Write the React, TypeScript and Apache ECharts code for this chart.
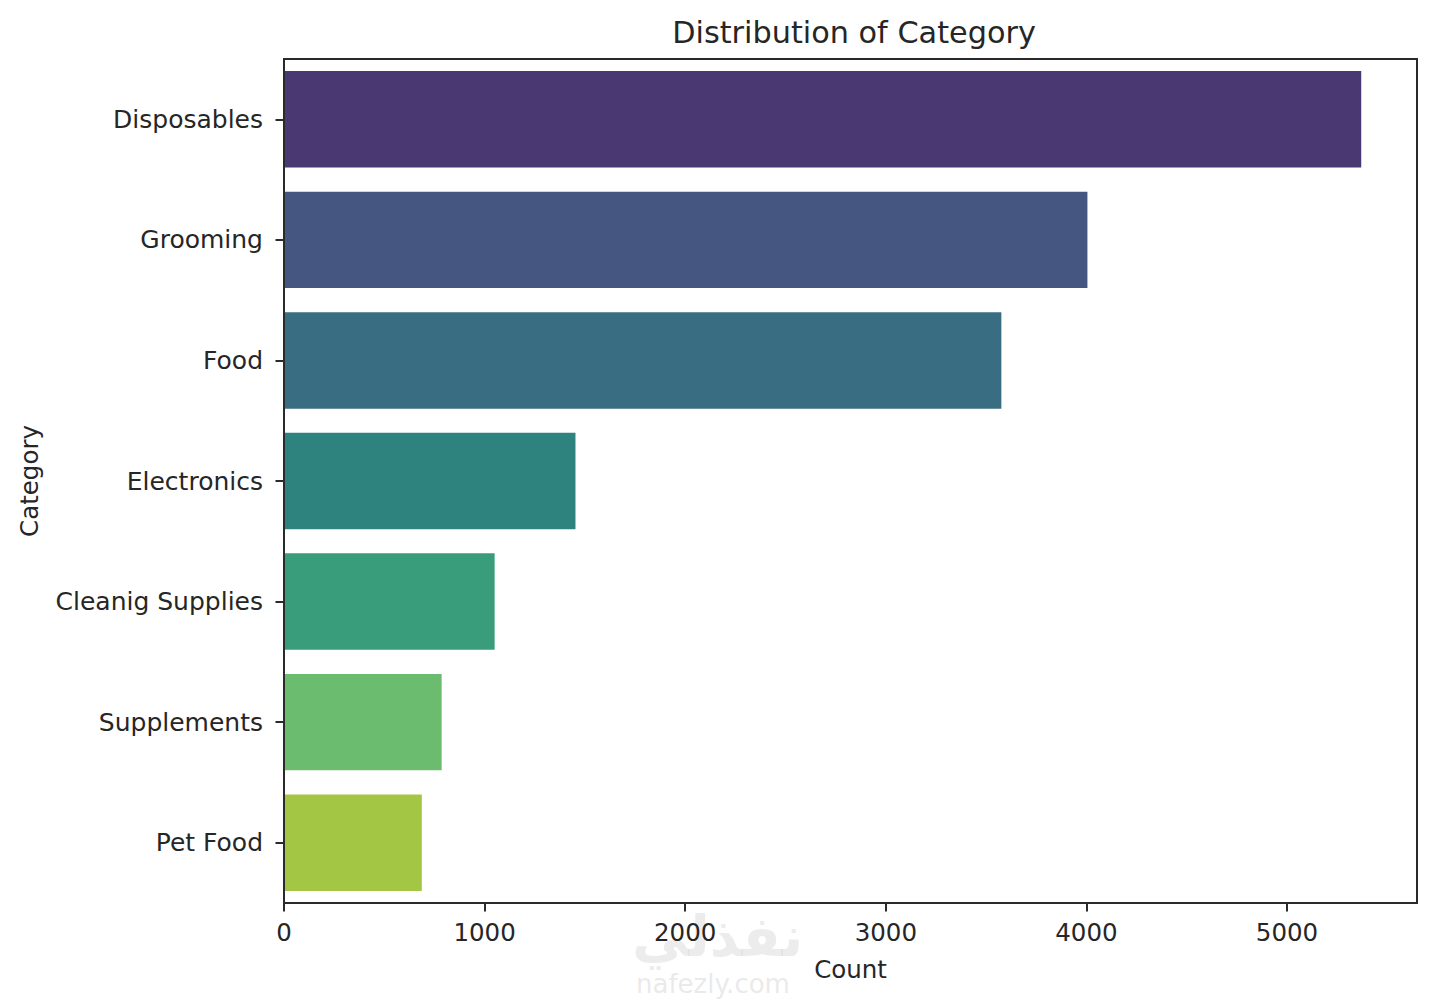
import React, { useEffect, useRef } from "react";
import * as echarts from "echarts";

const categories = [
  "Disposables",
  "Grooming",
  "Food",
  "Electronics",
  "Cleanig Supplies",
  "Supplements",
  "Pet Food",
];
const counts = [5370, 4005, 3576, 1453, 1050, 786, 687];
const barColors = [
  "#4a3873",
  "#455681",
  "#386d82",
  "#2f837f",
  "#399d7b",
  "#6bbc6e",
  "#a3c645",
];
const xTickInterval = 1000;
const xMax = 5648;

const FONT = "DejaVu Sans";
const INK = "#262626";

export default function App() {
  const ref = useRef<HTMLDivElement | null>(null);

  useEffect(() => {
    if (!ref.current) return;
    const chart = echarts.init(ref.current, undefined, { renderer: "svg" });
    const option = {
      animation: false,
      backgroundColor: "#ffffff",
      title: {
        text: "Distribution of Category",
        left: 849,
        top: 12,
        textAlign: "center",
        textStyle: {
          fontFamily: FONT,
          fontSize: 30.3,
          fontWeight: "normal",
          color: INK,
        },
      },
      grid: {
        left: 284,
        top: 59,
        width: 1133,
        height: 844,
        show: true,
        borderColor: "#2a2a2a",
        borderWidth: 2,
        backgroundColor: "transparent",
        containLabel: false,
      },
      xAxis: {
        type: "value",
        min: 0,
        max: xMax,
        interval: xTickInterval,
        z: 5,
        name: "Count",
        nameLocation: "middle",
        nameGap: 54,
        nameTextStyle: { fontFamily: FONT, fontSize: 24.5, color: INK },
        axisLine: { show: true, lineStyle: { color: "#2a2a2a", width: 2 } },
        axisTick: {
          show: true,
          inside: false,
          length: 8.5,
          lineStyle: { color: "#2a2a2a", width: 2 },
        },
        axisLabel: {
          fontFamily: FONT,
          fontSize: 24.5,
          color: INK,
          margin: 17,
          showMaxLabel: false,
          formatter: (v: number) => String(v),
        },
        splitLine: { show: false },
      },
      yAxis: {
        type: "category",
        data: categories,
        inverse: true,
        z: 5,
        name: "Category",
        nameLocation: "middle",
        nameRotate: 90,
        nameGap: 242,
        nameTextStyle: { fontFamily: FONT, fontSize: 24.5, color: INK },
        axisLine: { show: true, lineStyle: { color: "#2a2a2a", width: 2 } },
        axisTick: {
          show: true,
          alignWithLabel: true,
          inside: false,
          length: 8.5,
          lineStyle: { color: "#2a2a2a", width: 2 },
        },
        axisLabel: {
          fontFamily: FONT,
          fontSize: 25,
          color: INK,
          margin: 21,
        },
        splitLine: { show: false },
      },
      series: [
        {
          type: "bar",
          barWidth: "80%",
          data: counts.map((v, i) => ({
            value: v,
            itemStyle: { color: barColors[i] },
          })),
        },
      ],
      graphic: [
        {
          type: "text",
          left: 632,
          top: 908,
          z: -1,
          silent: true,
          style: {
            text: "نفذلي",
            fontFamily: "DejaVu Sans",
            fontSize: 56,
            fontWeight: "bold",
            fill: "rgba(200,200,200,0.35)",
          },
        },
        {
          type: "text",
          left: 636,
          top: 971,
          z: -1,
          silent: true,
          style: {
            text: "nafezly.com",
            fontFamily: "DejaVu Sans",
            fontSize: 26,
            fill: "rgba(200,200,200,0.4)",
          },
        },
      ],
    };
    chart.setOption(option as any);
    return () => {
      chart.dispose();
    };
  }, []);

  return (
    <div
      ref={ref}
      style={{
        position: "fixed",
        left: 0,
        top: 0,
        width: 1433,
        height: 1000,
        background: "#fff",
      }}
    />
  );
}
